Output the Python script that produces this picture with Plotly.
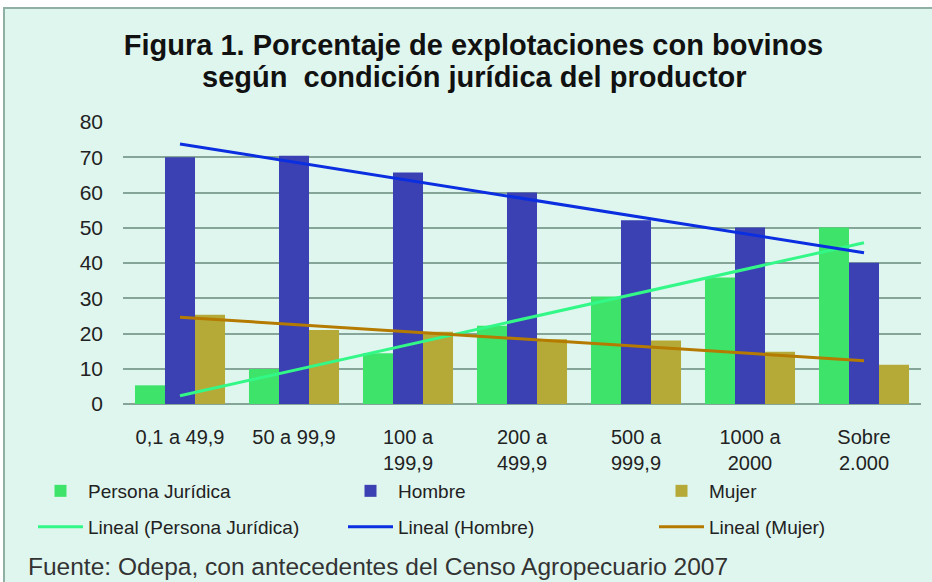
import plotly.graph_objects as go
import numpy as np

categorias = ["0,1 a 49,9", "50 a 99,9", "100 a<br>199,9", "200 a<br>499,9",
              "500 a<br>999,9", "1000 a<br>2000", "Sobre<br>2.000"]
persona_juridica = [5.3, 9.9, 14.4, 22.2, 30.5, 35.9, 50.1]
hombre = [70.0, 70.4, 65.7, 60.0, 52.1, 50.1, 40.1]
mujer = [25.3, 21.0, 20.5, 18.4, 18.0, 14.8, 11.1]

col_pj = "#3ee46a"
col_h = "#3b41b2"
col_m = "#b5aa38"
fnt = "Liberation Sans, Arial, sans-serif"

def lineal(y):  # tendencia lineal como en Excel
    x = np.arange(1, len(y) + 1)
    m, b = np.polyfit(x, y, 1)
    return m * x + b

# pixel -> paper coords (plot area 123..921 x, 122..404 y)
px = lambda p: (p - 123) / 798
py = lambda p: (404 - p) / 282

# one legend per entry so the 3x2 grid sits where the reference has it
leg_x = [33, 343, 654]
leg_y = [491, 527]

fig = go.Figure()
legs = {}
series = [("Persona Jurídica", persona_juridica, col_pj, "#33f888"),
          ("Hombre", hombre, col_h, "#0a2ee0"), ("Mujer", mujer, col_m, "#b57a00")]
for i, (nom, vals, c, _) in enumerate(series):
    lg = "legend" if i == 0 else "legend%d" % (i + 1)
    fig.add_bar(x=categorias, y=vals, name=nom, marker_color=c, marker_line_width=0,
                legend=lg, showlegend=True)
    legs[lg] = (leg_x[i], leg_y[0])
for i, (nom, vals, _, lc) in enumerate(series):
    lg = "legend%d" % (i + 4)
    fig.add_scatter(x=categorias, y=lineal(vals), mode="lines", name="Lineal (" + nom + ")",
                    line=dict(color=lc, width=3), legend=lg, showlegend=True)
    legs[lg] = (leg_x[i], leg_y[1])

leg_layout = {}
for lg, (lx, ly) in legs.items():
    leg_layout[lg] = dict(xref="container", yref="container", x=lx / 932, y=1 - ly / 582,
                          xanchor="left", yanchor="middle", itemwidth=45,
                          font=dict(family=fnt, size=19, color="#222"),
                          bgcolor="rgba(0,0,0,0)", itemclick=False)

fig.update_layout(
    width=932, height=582, showlegend=True,
    paper_bgcolor="white", plot_bgcolor="rgba(0,0,0,0)",
    margin=dict(l=123, r=11, t=122, b=178, autoexpand=False),
    barmode="group", bargap=0.21, bargroupgap=0,
    font=dict(family=fnt, color="#222"),
    title=dict(text="<b>Figura 1. Porcentaje de explotaciones con bovinos</b>",
               x=0.508, xanchor="center", y=1 - 45 / 582, yanchor="middle",
               font=dict(family=fnt, size=29, color="#111")),
    shapes=[dict(type="rect", xref="paper", yref="paper", layer="below",
                 x0=px(4), x1=px(940), y0=py(590), y1=py(8),
                 fillcolor="#dff6ef", line=dict(color="#8fb0a3", width=2))],
    annotations=[dict(text="<b>según  condición jurídica del productor</b>",
                      xref="paper", yref="paper", x=px(474), y=py(77),
                      xanchor="center", yanchor="middle", showarrow=False,
                      font=dict(family=fnt, size=29, color="#111")),
                 dict(text="Fuente: Odepa, con antecedentes del Censo Agropecuario 2007",
                      xref="paper", yref="paper", x=px(26), y=py(566),
                      xanchor="left", yanchor="middle", showarrow=False,
                      font=dict(family=fnt, size=24.5, color="#333"))],
    **leg_layout,
)
fig.update_xaxes(tickfont=dict(size=20, color="#222"), showgrid=False, ticks="", showline=False,
                 ticklabelstandoff=19)
fig.update_yaxes(range=[0, 80], dtick=10, tickfont=dict(size=21, color="#222"),
                 gridcolor="#84a598", gridwidth=2, zeroline=True, zerolinecolor="#84a598",
                 zerolinewidth=2, ticks="", showline=False, ticklabelstandoff=19)

fig.write_html("out.html", config={"displayModeBar": False},
               post_script="document.body.style.margin='0';")
